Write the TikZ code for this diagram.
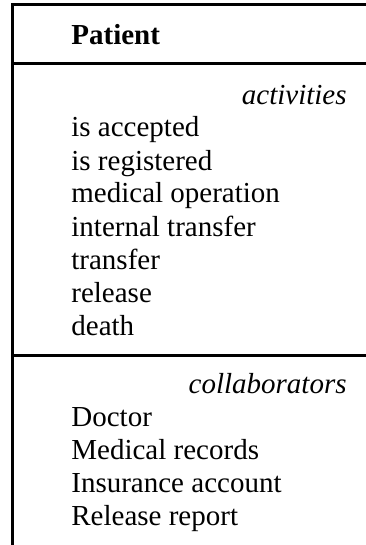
\documentclass[tikz,border=0pt]{standalone}
\usepackage{fontspec}
\setmainfont{Liberation Serif}
\usepackage{tikz}
\usetikzlibrary{positioning}
\newcommand{\boxfont}{\fontsize{14.5}{17}\selectfont}
\tikzset{
  classname/.style={font=\boxfont\bfseries,anchor=base west,inner sep=0},
  member/.style={font=\boxfont,anchor=base west,inner sep=0},
  section/.style={font=\boxfont\itshape,anchor=base east,inner sep=0},
  border/.style={line width=1.5pt,line cap=rect},
}

\begin{document}
\begin{tikzpicture}[x=0.5pt,y=-0.5pt]
	    \useasboundingbox (0,0) rectangle (365,545);
	    % box outline
	    \coordinate (TL) at (12.5,4.5);
	    \coordinate (TR) at (366,4.5);
	    \coordinate (BL) at (12.5,546);
	    \coordinate (S1) at (12.5,63.5);
	    \coordinate (S1r) at (366,63.5);
	    \coordinate (S2) at (12.5,355);
	    \coordinate (S2r) at (366,355);
	    \draw[border] (TR) -- (TL) -- (BL);
	    \draw[border] (S1) -- (S1r);
	    \draw[border] (S2) -- (S2r);
	    \node[classname] (name) at (71,45) {Patient};
	    % activities
	    \node[section] (act) at (347,105) {activities};
	    \node[member] (a1) at (71,137) {is accepted};
	    \node[below=16.5pt of a1.base west,member] (a2) {is registered};
	    \node[below=16.5pt of a2.base west,member] (a3) {medical operation};
	    \node[below=16.5pt of a3.base west,member] (a4) {internal transfer};
	    \node[below=16.5pt of a4.base west,member] (a5) {transfer};
	    \node[below=16.5pt of a5.base west,member] (a6) {release};
	    \node[below=16.5pt of a6.base west,member] (a7) {death};
	    % collaborators
	    \node[section] (col) at (347,393) {collaborators};
	    \node[member] (c1) at (71,426) {Doctor};
	    \node[below=16.5pt of c1.base west,member] (c2) {Medical records};
	    \node[below=16.5pt of c2.base west,member] (c3) {Insurance account};
	    \node[below=16.5pt of c3.base west,member] (c4) {Release report};
	\end{tikzpicture}
\end{document}
